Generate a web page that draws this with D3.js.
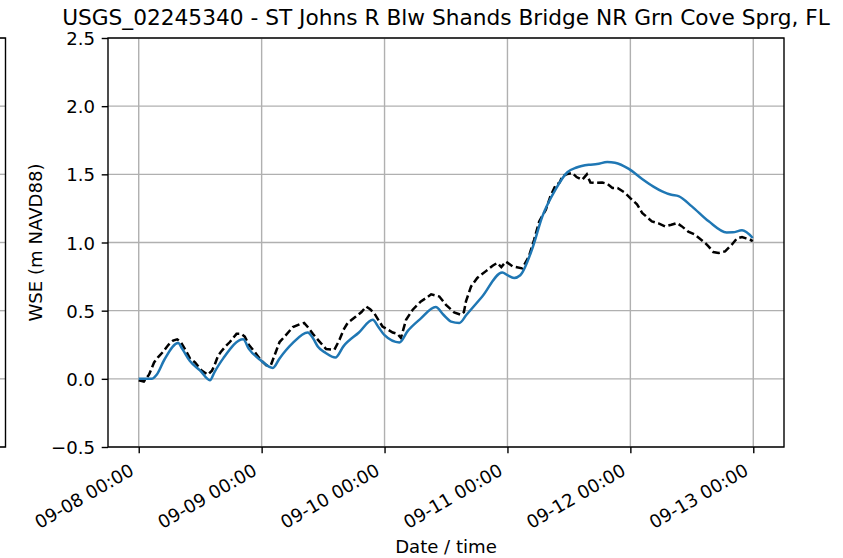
<!DOCTYPE html>
<html>
<head>
<meta charset="utf-8">
<script src="https://cdn.jsdelivr.net/npm/d3@7"></script>
<style>
  html, body { margin: 0; padding: 0; background: #fff; }
  svg { display: block; font-family: "DejaVu Sans", sans-serif; }
</style>
</head>
<body>
<svg id="chart" width="843" height="558"></svg>
<script>
// Station and series
const title = "USGS_02245340 - ST Johns R Blw Shands Bridge NR Grn Cove Sprg, FL";
const startTime = Date.UTC(2017, 8, 8, 0, 0);

// Modelled WSE (hours from 09-08 00:00, metres NAVD88)
const modelHours = [0, 2.5, 3.5, 5, 7.7, 8.5, 10, 12, 13.9, 14.8, 16.5, 20.4, 21.5, 23.7, 26.2, 27.5, 30, 33.0, 34, 35, 36.5, 38.4, 40, 43, 45.7, 46.8, 48, 50.9, 52.5, 55, 58.0, 59.5, 61, 62.6, 64, 67, 71.0, 72, 73.3, 74.5, 76.8, 78.8, 81.4, 83.7, 85.5, 87.9, 89.5, 91.5, 93, 95.7, 98.3, 100.5, 102.2, 104, 105.4, 108, 111.3, 114.8, 116, 117.8, 119.9];
const modelWSE = [0, 0, 0.03, 0.14, 0.262, 0.22, 0.13, 0.06, -0.01, 0.05, 0.15, 0.29, 0.22, 0.14, 0.08, 0.15, 0.26, 0.34, 0.30, 0.235, 0.19, 0.156, 0.24, 0.34, 0.433, 0.38, 0.32, 0.267, 0.35, 0.44, 0.526, 0.47, 0.42, 0.41, 0.47, 0.60, 0.78, 0.76, 0.74, 0.76, 0.95, 1.19, 1.39, 1.515, 1.55, 1.57, 1.575, 1.59, 1.585, 1.54, 1.466, 1.41, 1.375, 1.35, 1.34, 1.265, 1.155, 1.074, 1.075, 1.089, 1.033];

// Observed WSE at the gauge
const obsHours = [0, 1, 2, 3, 3.8, 4.8, 5.8, 6.7, 7.5, 8.2, 9, 10, 11, 12.3, 13.5, 14.3, 14.8, 15.5, 16.1, 17, 17.8, 19.1, 20, 20.7, 21.5, 22.6, 23.8, 24.9, 25.8, 26.5, 27.5, 28.5, 30.1, 31.4, 32.3, 33, 34, 35.0, 36.6, 38.2, 39.2, 40, 40.8, 42.4, 43.5, 44.4, 45.2, 46.0, 47.6, 49.6, 50.5, 51.2, 52.2, 53.5, 55.1, 56, 57.1, 58.7, 60.0, 61.6, 62.9, 63.5, 63.9, 64.9, 66.1, 67.8, 69.1, 70, 70.8, 71.7, 73, 74.9, 76.2, 77.2, 78.2, 79.5, 80.4, 81.4, 82.2, 82.7, 83.5, 84.7, 85.5, 86.6, 87.5, 88.2, 89.2, 90.5, 91.5, 92.5, 93.5, 95.0, 96.3, 97.3, 98.3, 100.2, 101.5, 102.8, 104, 105.1, 106, 107.3, 108.5, 109.4, 110.5, 111.3, 112.2, 113.2, 114.5, 115.8, 116.8, 117.8, 118.6, 119.4, 119.9];
const obsWSE = [-0.01, -0.02, 0.03, 0.12, 0.16, 0.20, 0.25, 0.28, 0.29, 0.27, 0.22, 0.15, 0.12, 0.06, 0.03, 0.06, 0.10, 0.17, 0.20, 0.24, 0.27, 0.33, 0.33, 0.31, 0.25, 0.20, 0.14, 0.10, 0.10, 0.17, 0.27, 0.31, 0.38, 0.40, 0.41, 0.38, 0.33, 0.286, 0.218, 0.213, 0.286, 0.36, 0.41, 0.457, 0.49, 0.53, 0.51, 0.48, 0.384, 0.34, 0.33, 0.30, 0.433, 0.507, 0.568, 0.59, 0.62, 0.604, 0.543, 0.487, 0.47, 0.49, 0.568, 0.678, 0.74, 0.79, 0.83, 0.85, 0.82, 0.86, 0.825, 0.81, 0.90, 1.02, 1.155, 1.24, 1.34, 1.42, 1.44, 1.485, 1.50, 1.51, 1.48, 1.46, 1.50, 1.44, 1.437, 1.44, 1.43, 1.40, 1.40, 1.363, 1.314, 1.28, 1.217, 1.155, 1.14, 1.118, 1.13, 1.143, 1.12, 1.08, 1.06, 1.033, 1.00, 0.97, 0.93, 0.923, 0.935, 0.984, 1.03, 1.04, 1.03, 1.02, 1.01];

// Axis ticks
const yTicks = [-0.5, 0.0, 0.5, 1.0, 1.5, 2.0, 2.5];
const xTickDays = [8, 9, 10, 11, 12, 13];

const HOUR = 3600 * 1000;
const toDate = h => new Date(startTime + h * HOUR);

const svg = d3.select("#chart");
const m = { left: 108, right: 784, top: 38, bottom: 447 };

const x = d3.scaleUtc()
  .domain([toDate(-6), toDate(126)])
  .range([m.left, m.right]);
const y = d3.scaleLinear()
  .domain([-0.5, 2.5])
  .range([m.bottom, m.top]);

const gridColor = "#b0b0b0";
const thin = 1.4;
const tickFont = 18.1;
const fmtY = v => d3.format(".1f")(v).replace("-", "\u2212");
const fmtX = d3.utcFormat("%m-%d %H:%M");
const xTicks = xTickDays.map(d => new Date(Date.UTC(2017, 8, d, 0, 0)));

// Neighbouring panel edge (shares the y scale)
const side = svg.append("g");
side.selectAll("line.grid").data(yTicks).join("line")
  .attr("x1", 0).attr("x2", 5)
  .attr("y1", d => y(d)).attr("y2", d => y(d))
  .attr("stroke", gridColor).attr("stroke-width", thin);
side.append("path")
  .attr("d", `M0,${m.top}H5.5V${m.bottom}H0`)
  .attr("fill", "none").attr("stroke", "#000").attr("stroke-width", thin);

// Grid
const grid = svg.append("g");
grid.selectAll("line.gx").data(xTicks).join("line")
  .attr("x1", d => x(d)).attr("x2", d => x(d))
  .attr("y1", m.top).attr("y2", m.bottom)
  .attr("stroke", gridColor).attr("stroke-width", thin);
grid.selectAll("line.gy").data(yTicks).join("line")
  .attr("x1", m.left).attr("x2", m.right)
  .attr("y1", d => y(d)).attr("y2", d => y(d))
  .attr("stroke", gridColor).attr("stroke-width", thin);

// Series
const obs = obsHours.map((h, i) => [toDate(h), obsWSE[i]]);
const model = modelHours.map((h, i) => [toDate(h), modelWSE[i]]);

svg.append("path")
  .datum(obs)
  .attr("d", d3.line().x(d => x(d[0])).y(d => y(d[1])))
  .attr("fill", "none").attr("stroke", "#000")
  .attr("stroke-width", 2.5).attr("stroke-dasharray", "7.5,3.5");

svg.append("path")
  .datum(model)
  .attr("d", d3.line().curve(d3.curveMonotoneX).x(d => x(d[0])).y(d => y(d[1])))
  .attr("fill", "none").attr("stroke", "#1f77b4")
  .attr("stroke-width", 2.5);

// Axes
const xAxis = svg.append("g")
  .attr("transform", `translate(0,${m.bottom})`)
  .call(d3.axisBottom(x).tickValues(xTicks).tickFormat(fmtX).tickSize(6.3).tickSizeOuter(0));
const yAxis = svg.append("g")
  .attr("transform", `translate(${m.left},0)`)
  .call(d3.axisLeft(y).tickValues(yTicks).tickFormat(fmtY).tickSize(6.3).tickSizeOuter(0));

[xAxis, yAxis].forEach(g => {
  g.select(".domain").remove();
  g.selectAll(".tick line").attr("stroke", "#000").attr("stroke-width", thin);
  g.selectAll("text").attr("font-family", "DejaVu Sans").attr("font-size", tickFont).attr("fill", "#000");
});
yAxis.selectAll("text").attr("x", -13).attr("dy", "0.36em");
xAxis.selectAll("text")
  .attr("text-anchor", "end")
  .attr("x", 0).attr("y", 0).attr("dy", 0)
  .attr("transform", "translate(-4,27) rotate(-30)");

// Frame
svg.append("rect")
  .attr("x", m.left).attr("y", m.top)
  .attr("width", m.right - m.left).attr("height", m.bottom - m.top)
  .attr("fill", "none").attr("stroke", "#000").attr("stroke-width", thin);

// Labels
svg.append("text")
  .attr("x", (m.left + m.right) / 2).attr("y", 25)
  .attr("text-anchor", "middle").attr("font-size", 21.7).attr("fill", "#000")
  .text(title);
svg.append("text")
  .attr("x", (m.left + m.right) / 2).attr("y", 553)
  .attr("text-anchor", "middle").attr("font-size", tickFont).attr("fill", "#000")
  .text("Date / time");
svg.append("text")
  .attr("transform", `translate(42,${(m.top + m.bottom) / 2}) rotate(-90)`)
  .attr("text-anchor", "middle").attr("font-size", tickFont).attr("fill", "#000")
  .text("WSE (m NAVD88)");
</script>
</body>
</html>
